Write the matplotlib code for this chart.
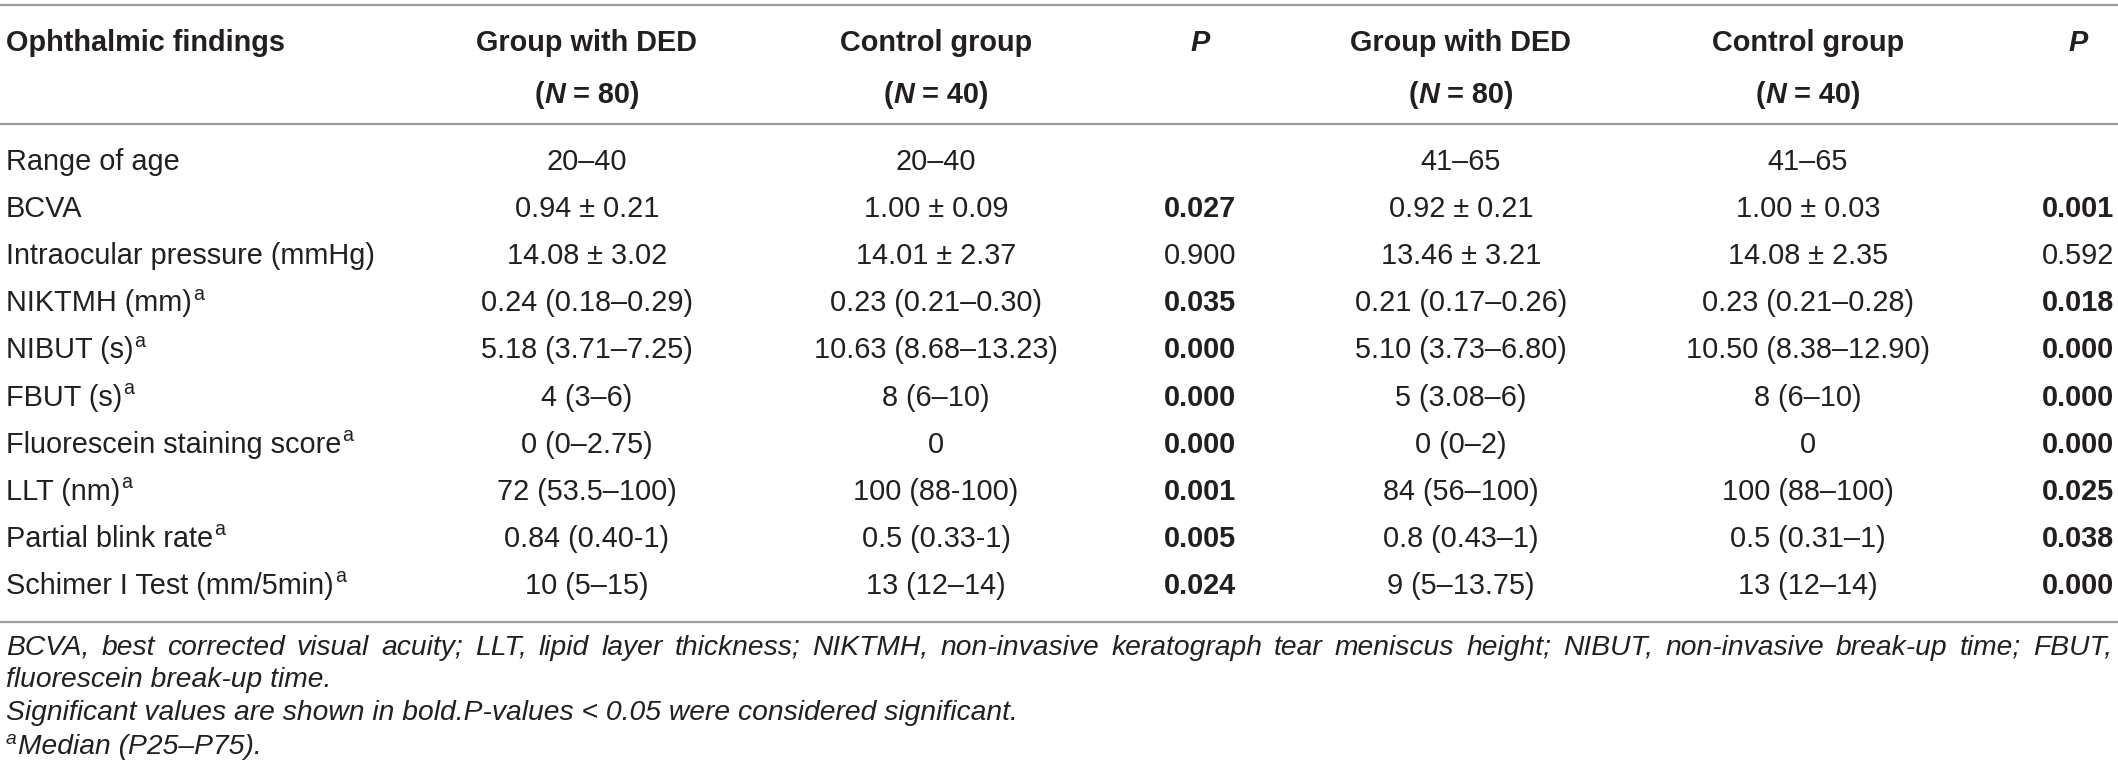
import matplotlib
matplotlib.use("Agg")
import matplotlib.pyplot as plt

# table contents
row_labels = ["Range of age", "BCVA", "Intraocular pressure (mmHg)", "NIKTMH (mm)",
              "NIBUT (s)", "FBUT (s)", "Fluorescein staining score", "LLT (nm)",
              "Partial blink rate", "Schimer I Test (mm/5min)"]
row_sup = [False, False, False, True, True, True, True, True, True, True]

ded_young = ["20–40", "0.94 ± 0.21", "14.08 ± 3.02", "0.24 (0.18–0.29)", "5.18 (3.71–7.25)",
             "4 (3–6)", "0 (0–2.75)", "72 (53.5–100)", "0.84 (0.40-1)", "10 (5–15)"]
ctrl_young = ["20–40", "1.00 ± 0.09", "14.01 ± 2.37", "0.23 (0.21–0.30)", "10.63 (8.68–13.23)",
              "8 (6–10)", "0", "100 (88-100)", "0.5 (0.33-1)", "13 (12–14)"]
p_young = ["", "0.027", "0.900", "0.035", "0.000", "0.000", "0.000", "0.001", "0.005", "0.024"]

ded_old = ["41–65", "0.92 ± 0.21", "13.46 ± 3.21", "0.21 (0.17–0.26)", "5.10 (3.73–6.80)",
           "5 (3.08–6)", "0 (0–2)", "84 (56–100)", "0.8 (0.43–1)", "9 (5–13.75)"]
ctrl_old = ["41–65", "1.00 ± 0.03", "14.08 ± 2.35", "0.23 (0.21–0.28)", "10.50 (8.38–12.90)",
            "8 (6–10)", "0", "100 (88–100)", "0.5 (0.31–1)", "13 (12–14)"]
p_old = ["", "0.001", "0.592", "0.018", "0.000", "0.000", "0.000", "0.025", "0.038", "0.000"]

group_names = ["Group with DED", "Control group", "Group with DED", "Control group"]
group_n = ["80", "40", "80", "40"]

footer1 = ("BCVA, best corrected visual acuity; LLT, lipid layer thickness; NIKTMH, non-invasive "
           "keratograph tear meniscus height; NIBUT, non-invasive break-up time; FBUT,")
footer2 = "fluorescein break-up time."
footer3 = "Significant values are shown in bold.P-values < 0.05 were considered significant."
footer4 = "Median (P25–P75)."

W, H = 2118, 782
FONT = "Liberation Sans"
INK = "#231f20"
RULE = "#9b9b9b"
FS = 20.8

fig = plt.figure(figsize=(W / 100, H / 100), dpi=100)
ax = fig.add_axes([0, 0, 1, 1])
ax.set_xlim(0, W)
ax.set_ylim(H, 0)
ax.axis("off")
renderer = fig.canvas.get_renderer()


def txt(x, y, s, **kw):
    opts = dict(family=FONT, color=INK, fontsize=FS, va="center")
    opts.update(kw)
    return ax.text(x, y, s, **opts)


def width(s, **kw):
    t = txt(0, 0, s, **kw)
    w = t.get_window_extent(renderer).width
    t.remove()
    return w


# rules
for yy in (5, 124, 622):
    ax.axhline(yy, color=RULE, lw=1.6)

col_x = [587, 936, 1200, 1461, 1808, 2078]
group_cols = [col_x[0], col_x[1], col_x[3], col_x[4]]
p_cols = [col_x[2], col_x[5]]
head_y1, head_y2 = 43, 95

# header
txt(6, head_y1, "Ophthalmic findings", weight="bold")
space_b = width("x x", weight="bold") - width("xx", weight="bold")
for cx, name, n in zip(group_cols, group_names, group_n):
    txt(cx, head_y1, name, weight="bold", ha="center")
    runs = [("(", {}), ("N", {"style": "italic"}), (None, {}), ("= " + n + ")", {})]
    ws = [space_b if s is None else width(s, weight="bold", **k) for s, k in runs]
    x0 = cx - sum(ws) / 2
    for (s, k), w in zip(runs, ws):
        if s is not None:
            txt(x0, head_y2, s, weight="bold", ha="left", **k)
        x0 += w
for px in p_cols:
    txt(px, head_y1, "P", weight="bold", style="italic", ha="center")

# body
row_y0, row_step = 162, 47.1
for i, lab in enumerate(row_labels):
    y = row_y0 + i * row_step
    txt(6, y, lab)
    if row_sup[i]:
        txt(6 + width(lab) + 1, y - 9, "a", fontsize=FS * 0.68)
    cells = [ded_young[i], ctrl_young[i], ded_old[i], ctrl_old[i]]
    for cx, s in zip(group_cols, cells):
        txt(cx, y, s, ha="center")
    for px, pv in zip(p_cols, [p_young[i], p_old[i]]):
        if pv:
            bold = float(pv) < 0.05
            txt(px, y, pv, ha="center", weight="bold" if bold else "normal")

# footnotes
fs_foot = 10 * 1016 / width(footer3, fontsize=10, style="italic")
left, right = 6, 2112
words = footer1.split()
ww = [width(w_, fontsize=fs_foot, style="italic") for w_ in words]
gap = (right - left - sum(ww)) / (len(words) - 1)
x0 = left
for w_, wd in zip(words, ww):
    txt(x0, 648, w_, fontsize=fs_foot, style="italic")
    x0 += wd + gap
txt(left, 680, footer2, fontsize=fs_foot, style="italic")
txt(left, 713, footer3, fontsize=fs_foot, style="italic")
txt(left, 740, "a", fontsize=fs_foot * 0.68, style="italic")
txt(left + width("a", fontsize=fs_foot * 0.68, style="italic") + 1, 747, footer4,
    fontsize=fs_foot, style="italic")

fig.savefig("out.png", dpi=100, facecolor="white")
